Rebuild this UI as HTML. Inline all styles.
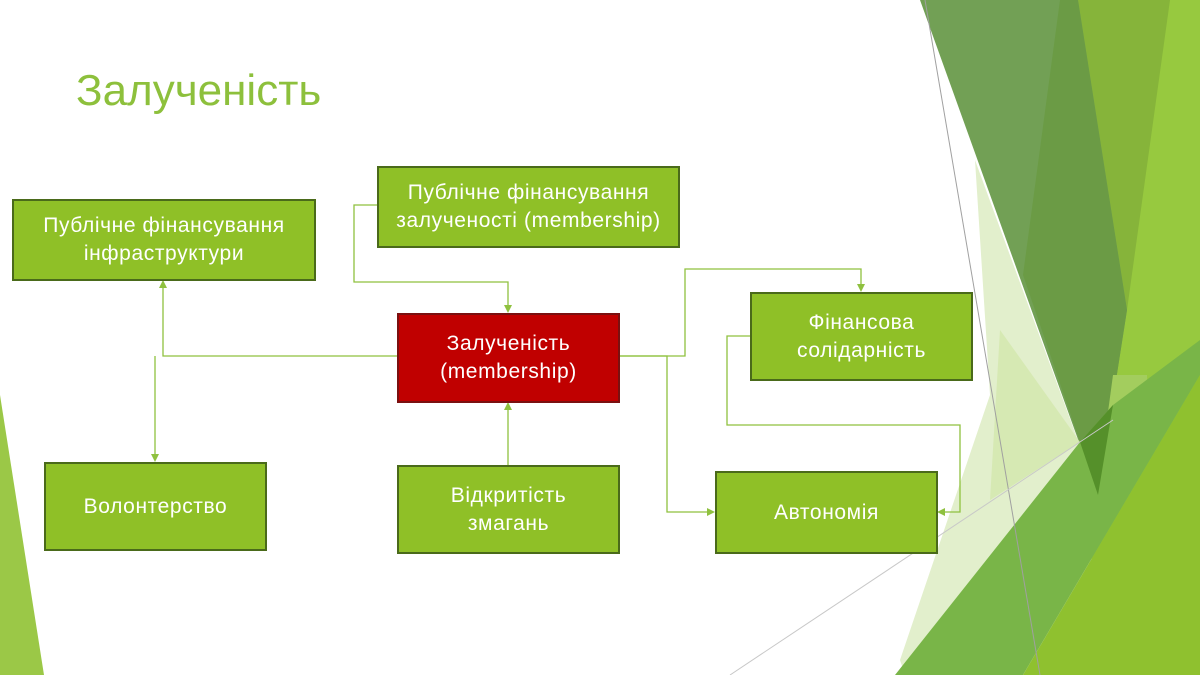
<!DOCTYPE html>
<html><head><meta charset="utf-8"><style>
body{margin:0;width:1200px;height:675px;overflow:hidden;background:#fff;position:relative;font-family:"Liberation Sans","DejaVu Sans",sans-serif}
svg{position:absolute;left:0;top:0}
.t{position:absolute;left:76px;top:66px;font-size:44px;color:#8dc03c}
.b{position:absolute;box-sizing:border-box;background:#8fc027;border:2px solid #4a6a1a;color:#fff;font-size:21px;letter-spacing:0.6px;line-height:28px;display:flex;align-items:center;justify-content:center;text-align:center}
.r{background:#c00000;border-color:#7a1010}
</style></head><body>
<svg width="1200" height="675" viewBox="0 0 1200 675">
<polygon points="0,395 44,675 0,675" fill="#9bc847"/>
<polygon points="1078,0 1200,0 1200,675 1080,675 1098,495" fill="#97c93f"/>
<polygon points="1078,0 1170,0 1127,310" fill="#86b43a"/>
<polygon points="920,0 1078,0 1127,310 1098,495" fill="#72a055"/>
<polygon points="1060,0 1078,0 1127,310 1098,495 1023,275" fill="#6b9b45"/>
<polygon points="975,160 1098,495 905,675 900,660 990,395" fill="#e2efcc"/>
<polygon points="1000,330 1080,442 990,500" fill="#d3e7ad" opacity="0.8"/>
<polygon points="1113,375 1147,375 1150,450 1090,545" fill="#a3cd5e"/>
<polygon points="895,675 1080,442 1113,405 1200,340 1200,375 1023,675" fill="#79b548"/>
<polygon points="1080,442 1113,405 1098,495" fill="#55902a"/>
<polygon points="1023,675 1200,375 1200,675" fill="#8fc12f"/>
<line x1="925" y1="0" x2="1040" y2="675" stroke="#a0a0a0" stroke-width="1"/>
<line x1="730" y1="675" x2="1113" y2="420" stroke="#c8c8c8" stroke-width="1"/>
<g stroke="#8fc13f" stroke-width="1.3" fill="none">
<polyline points="397,356 163,356 163,286"/>
<polyline points="155,356 155,456"/>
<polyline points="377,205 354,205 354,282 508,282 508,307"/>
<polyline points="508,465 508,408"/>
<polyline points="619,356 685,356 685,269 861,269 861,286"/>
<polyline points="619,356 667,356 667,512 709,512"/>
<polyline points="750,336 727,336 727,425 960,425 960,512 943,512"/>
</g>
<g fill="#8fc13f">
<polygon points="163,280 159,288 167,288"/>
<polygon points="155,462 151,454 159,454"/>
<polygon points="508,313 504,305 512,305"/>
<polygon points="508,402 504,410 512,410"/>
<polygon points="861,292 857,284 865,284"/>
<polygon points="715,512 707,508 707,516"/>
<polygon points="937,512 945,508 945,516"/>
</g>
</svg>
<div class="t">Залученість</div>
<div class="b" style="left:12px;top:199px;width:304px;height:82px">Публічне фінансування<br>інфраструктури</div>
<div class="b" style="left:377px;top:166px;width:303px;height:82px">Публічне фінансування<br>залученості (membership)</div>
<div class="b r" style="left:397px;top:313px;width:223px;height:90px">Залученість<br>(membership)</div>
<div class="b" style="left:750px;top:292px;width:223px;height:89px">Фінансова<br>солідарність</div>
<div class="b" style="left:44px;top:462px;width:223px;height:89px">Волонтерство</div>
<div class="b" style="left:397px;top:465px;width:223px;height:89px">Відкритість<br>змагань</div>
<div class="b" style="left:715px;top:471px;width:223px;height:83px">Автономія</div>
</body></html>
